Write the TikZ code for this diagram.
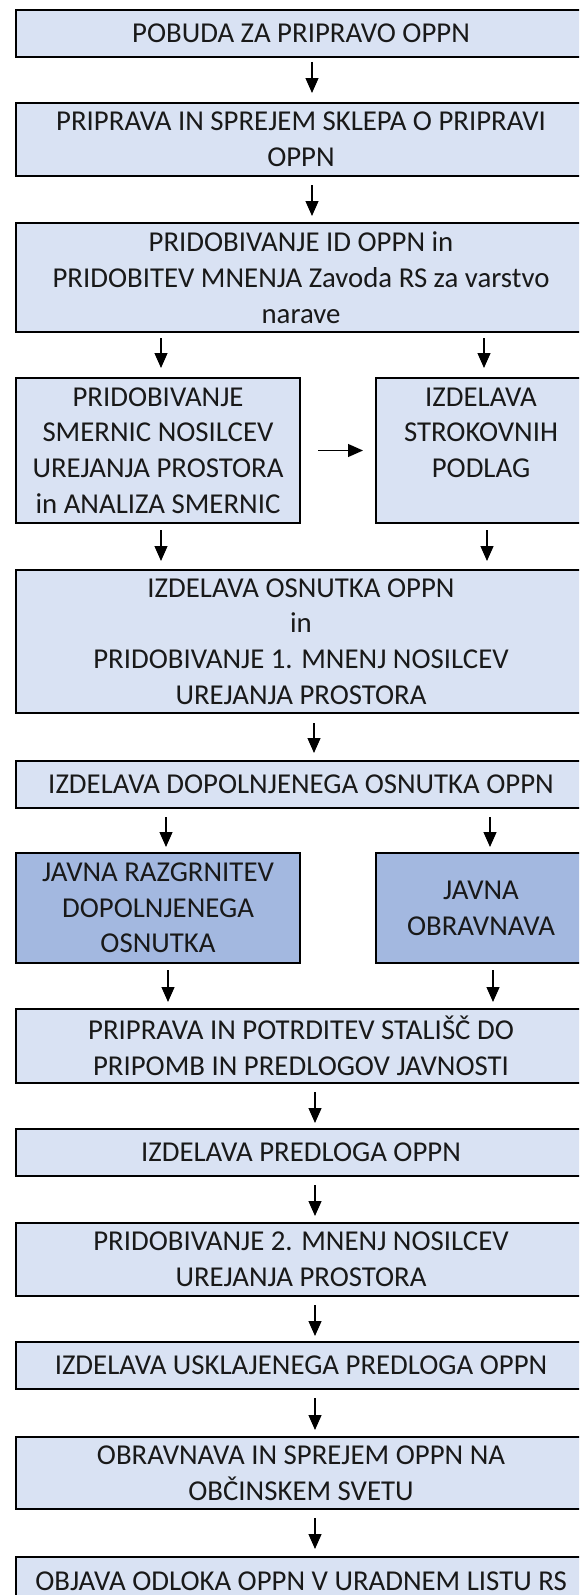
\documentclass[tikz,border=0pt]{standalone}
\usepackage{fontspec}
\setmainfont{Carlito}
\usetikzlibrary{arrows.meta}
\definecolor{lightbox}{HTML}{D9E2F3}
\definecolor{darkbox}{HTML}{A3B8E0}
\tikzset{
  box/.style={draw=black, line width=1.4pt, fill=lightbox, inner sep=0pt, outer sep=0pt,
    align=center, text=black!90, font=\fontsize{28.8}{35.7}\selectfont},
  wide/.style={box, minimum width=570pt},
  halfl/.style={box, minimum width=284pt},
  halfr/.style={box, minimum width=210pt},
  dark/.style={fill=darkbox},
  arr/.style={line width=1.2pt, -{Triangle[length=15pt,width=13pt]}}
}
\begin{document}
\begin{tikzpicture}[x=1pt,y=-1pt]
\useasboundingbox (0,0) rectangle (579,1595);
\fill[white] (0,0) rectangle (579,1595);
\clip (0,0) rectangle (579,1595);

\node[wide, minimum height=47pt] (b1) at (301,33.5) {POBUDA ZA PRIPRAVO OPPN};
\node[wide, minimum height=73pt] (b2) at (301,139.5) {PRIPRAVA IN SPREJEM SKLEPA O PRIPRAVI\\OPPN};
\node[wide, minimum height=109pt] (b3) at (301,277.5) {PRIDOBIVANJE ID OPPN in\\PRIDOBITEV MNENJA Zavoda RS za varstvo\\narave};
\node[halfl, minimum height=145pt] (b4l) at (158,450.5) {PRIDOBIVANJE\\SMERNIC NOSILCEV\\UREJANJA PROSTORA\\in ANALIZA SMERNIC};
\node[halfr, minimum height=145pt] (b4r) at (481,450.5) {IZDELAVA\\STROKOVNIH\\PODLAG\\\phantom{P}};
\node[wide, minimum height=143pt] (b5) at (301,641.5) {IZDELAVA OSNUTKA OPPN\\in\\PRIDOBIVANJE 1. MNENJ NOSILCEV\\UREJANJA PROSTORA};
\node[wide, minimum height=47pt] (b6) at (301,784.5) {IZDELAVA DOPOLNJENEGA OSNUTKA OPPN};
\node[halfl, dark, minimum height=110pt] (b7l) at (158,908) {JAVNA RAZGRNITEV\\DOPOLNJENEGA\\OSNUTKA};
\node[halfr, dark, minimum height=110pt] (b7r) at (481,908) {JAVNA\\OBRAVNAVA};
\node[wide, minimum height=74pt] (b8) at (301,1046) {PRIPRAVA IN POTRDITEV STALIŠČ DO\\PRIPOMB IN PREDLOGOV JAVNOSTI};
\node[wide, minimum height=47pt] (b9) at (301,1152.5) {IZDELAVA PREDLOGA OPPN};
\node[wide, minimum height=73pt] (b10) at (301,1259.5) {PRIDOBIVANJE 2. MNENJ NOSILCEV\\UREJANJA PROSTORA};
\node[wide, minimum height=47pt] (b11) at (301,1365.5) {IZDELAVA USKLAJENEGA PREDLOGA OPPN};
\node[wide, minimum height=72pt] (b12) at (301,1473) {OBRAVNAVA IN SPREJEM OPPN NA\\OBČINSKEM SVETU};
\node[wide, minimum height=48pt, text depth=0pt] (b13) at (301,1581) {OBJAVA ODLOKA OPPN V URADNEM LISTU RS};

\draw[arr] ([xshift=11pt,yshift=-5pt]b1.south) -- ([xshift=11pt,yshift=10pt]b2.north);
\draw[arr] ([xshift=11pt,yshift=-9pt]b2.south) -- ([xshift=11pt,yshift=7pt]b3.north);
\draw[arr] ([xshift=-140pt,yshift=-6pt]b3.south) -- ([xshift=3pt,yshift=10pt]b4l.north);
\draw[arr] ([xshift=183pt,yshift=-6pt]b3.south) -- ([xshift=3pt,yshift=10pt]b4r.north);
\draw[arr] ([xshift=18pt]b4l.east) -- ([xshift=-13pt]b4r.west);
\draw[arr] ([xshift=3pt,yshift=-7pt]b4l.south) -- ([xshift=-140pt,yshift=9pt]b5.north);
\draw[arr] ([xshift=6pt,yshift=-7pt]b4r.south) -- ([xshift=186pt,yshift=9pt]b5.north);
\draw[arr] ([xshift=13pt,yshift=-10pt]b5.south) -- ([xshift=13pt,yshift=8pt]b6.north);
\draw[arr] ([xshift=-135pt,yshift=-9pt]b6.south) -- ([xshift=8pt,yshift=6pt]b7l.north);
\draw[arr] ([xshift=189pt,yshift=-9pt]b6.south) -- ([xshift=9pt,yshift=6pt]b7r.north);
\draw[arr] ([xshift=10pt,yshift=-7pt]b7l.south) -- ([xshift=-133pt,yshift=7pt]b8.north);
\draw[arr] ([xshift=12pt,yshift=-7pt]b7r.south) -- ([xshift=192pt,yshift=7pt]b8.north);
\draw[arr] ([xshift=14pt,yshift=-9pt]b8.south) -- ([xshift=14pt,yshift=6pt]b9.north);
\draw[arr] ([xshift=14pt,yshift=-9pt]b9.south) -- ([xshift=14pt,yshift=7pt]b10.north);
\draw[arr] ([xshift=14pt,yshift=-9pt]b10.south) -- ([xshift=14pt,yshift=6pt]b11.north);
\draw[arr] ([xshift=14pt,yshift=-9pt]b11.south) -- ([xshift=14pt,yshift=7pt]b12.north);
\draw[arr] ([xshift=14pt,yshift=-9pt]b12.south) -- ([xshift=14pt,yshift=8pt]b13.north);
\end{tikzpicture}
\end{document}
